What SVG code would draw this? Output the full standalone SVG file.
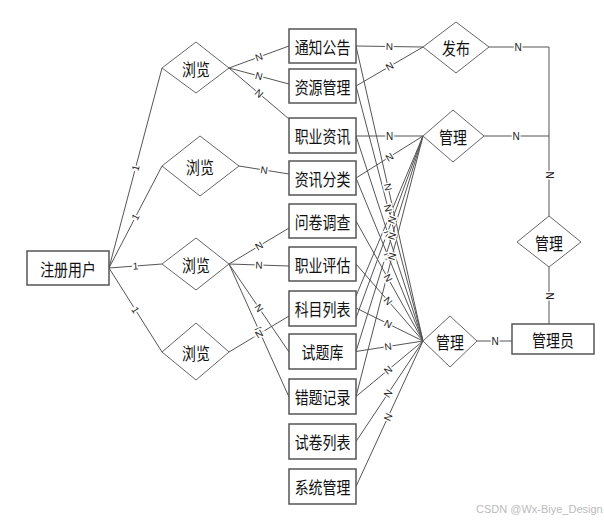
<svg xmlns="http://www.w3.org/2000/svg" width="604" height="521" viewBox="0 0 604 521">
<style>
.bg{fill:#ffffff}
.box{fill:#ffffff;stroke:#555555;stroke-width:1.5}
.dia{fill:#ffffff;stroke:#666666;stroke-width:1}
.t{font-family:"Noto Sans CJK SC","Liberation Sans",sans-serif;font-size:17px;fill:#111111;text-anchor:middle;dominant-baseline:central}
.ln{fill:none;stroke:#555555;stroke-width:1}
.lb{font-family:"Liberation Sans","DejaVu Sans",sans-serif;font-size:10px;fill:#222222;text-anchor:middle;dominant-baseline:central;stroke:#ffffff;stroke-width:3;paint-order:stroke}
.wm{font-family:"Liberation Sans","DejaVu Sans",sans-serif;font-size:11px;fill:#bbbbbb}
</style>
<rect class="bg" x="0" y="0" width="604" height="521"/>
<g id="connectors">
<path class="ln" d="M109,268 L162,68 M109,268 L162,166 M109,268 L162,264 M109,268 L162,352"/>
<path class="ln" d="M229,68 L289,46 M229,68 L289,84 M229,68 L289,119 M239,166 L289,174 M229,264 L289,228 M229,264 L289,266 M229,264 L289,352 M229,264 L289,397 M229,352 L289,316"/>
<path class="ln" d="M356,46 L423,47 M356,86 L423,47 M356,136 L423,136 M356,178 L423,136"/>
<path class="ln" d="M489,47 L549,47 L549,216 M484,136 L549,136 M549,267 L549,324 M477,341 L512,341"/>
<path class="ln" d="M356,46 L423,341 M356,86 L423,341 M356,136 L423,341 M356,178 L423,341 M356,221 L423,341 M356,264 L423,341 M356,308 L423,341 M356,351.5 L423,341 M356,396.5 L423,341 M356,441.5 L423,341 M356,486.5 L423,341"/>
<path class="ln" d="M356,296 L423,136 M356,318 L423,136 M356,351.5 L423,136 M356,396.5 L423,136"/>
<g id="labels">
<text class="lb" transform="translate(135.5,168) rotate(-75.2)">1</text>
<text class="lb" transform="translate(135.5,217) rotate(-62.5)">1</text>
<text class="lb" transform="translate(135.5,266) rotate(-4.3)">1</text>
<text class="lb" transform="translate(135.5,310) rotate(57.8)">1</text>
<text class="lb" transform="translate(259,57) rotate(-20.1)">N</text>
<text class="lb" transform="translate(259,76) rotate(14.9)">N</text>
<text class="lb" transform="translate(259,93.5) rotate(40.4)">N</text>
<text class="lb" transform="translate(264,170) rotate(9.1)">N</text>
<text class="lb" transform="translate(259,246) rotate(-31)">N</text>
<text class="lb" transform="translate(259,265) rotate(1.9)">N</text>
<text class="lb" transform="translate(259,308) rotate(55.7)">N</text>
<text class="lb" transform="translate(259,330.5) rotate(65.7)">N</text>
<text class="lb" transform="translate(259,334) rotate(-31)">N</text>
<text class="lb" transform="translate(389.5,46.5) rotate(0.9)">N</text>
<text class="lb" transform="translate(389.5,66.5) rotate(-30.2)">N</text>
<text class="lb" transform="translate(389.5,136)">N</text>
<text class="lb" transform="translate(389.5,157) rotate(-32.1)">N</text>
<text class="lb" transform="translate(518,47)">N</text>
<text class="lb" transform="translate(516,136)">N</text>
<text class="lb" transform="translate(549,175) rotate(90)">N</text>
<text class="lb" transform="translate(549,296) rotate(90)">N</text>
<text class="lb" transform="translate(495,341)">N</text>
<text class="lb" transform="translate(388,187) rotate(77.2)">N</text>
<text class="lb" transform="translate(388,208) rotate(75.3)">N</text>
<text class="lb" transform="translate(388,234) rotate(71.9)">N</text>
<text class="lb" transform="translate(388,256) rotate(67.7)">N</text>
<text class="lb" transform="translate(388,278) rotate(60.8)">N</text>
<text class="lb" transform="translate(388,301) rotate(49)">N</text>
<text class="lb" transform="translate(388,324) rotate(26.2)">N</text>
<text class="lb" transform="translate(388,346.5) rotate(-8.9)">N</text>
<text class="lb" transform="translate(388,370) rotate(-39.6)">N</text>
<text class="lb" transform="translate(388,393.5) rotate(-56.3)">N</text>
<text class="lb" transform="translate(388,417) rotate(-65.3)">N</text>
<text class="lb" transform="translate(392,220) rotate(-69.8)">N</text>
<text class="lb" transform="translate(392,236) rotate(-72.7)">N</text>
<text class="lb" transform="translate(392,256.5) rotate(-75.6)">N</text>
</g>
</g>
<g id="user"><rect class="box" x="27" y="251" width="82" height="34"/><text class="t" transform="translate(68,268) scale(0.82,1)">注册用户</text></g>
<g id="admin"><rect class="box" x="512" y="324" width="82" height="30"/><text class="t" transform="translate(553,339) scale(0.82,1)">管理员</text></g>
<g id="browse1"><polygon class="dia" points="162,68 196,42 229,68 196,93"/><text class="t" transform="translate(196,68) scale(0.82,1)">浏览</text></g>
<g id="browse2"><polygon class="dia" points="162,166 200,136 239,166 200,196"/><text class="t" transform="translate(200,166) scale(0.82,1)">浏览</text></g>
<g id="browse3"><polygon class="dia" points="162,264 196,238 229,264 196,290"/><text class="t" transform="translate(196,264) scale(0.82,1)">浏览</text></g>
<g id="browse4"><polygon class="dia" points="162,352 196,323 229,352 196,380"/><text class="t" transform="translate(196,352) scale(0.82,1)">浏览</text></g>
<g id="publish"><polygon class="dia" points="423,47 456,22 489,47 456,73"/><text class="t" transform="translate(456,47) scale(0.82,1)">发布</text></g>
<g id="manage-mid"><polygon class="dia" points="423,136 453,110 484,136 453,162"/><text class="t" transform="translate(453,136) scale(0.82,1)">管理</text></g>
<g id="manage-right"><polygon class="dia" points="517,242 549,216 581,242 549,267"/><text class="t" transform="translate(549,242) scale(0.82,1)">管理</text></g>
<g id="manage-bottom"><polygon class="dia" points="423,341 450,316 477,341 450,367"/><text class="t" transform="translate(450,341) scale(0.82,1)">管理</text></g>
<g id="e1"><rect class="box" x="289" y="29" width="67" height="34"/><text class="t" transform="translate(322.5,46) scale(0.82,1)">通知公告</text></g>
<g id="e2"><rect class="box" x="289" y="69" width="67" height="34"/><text class="t" transform="translate(322.5,86) scale(0.82,1)">资源管理</text></g>
<g id="e3"><rect class="box" x="289" y="118" width="67" height="35"/><text class="t" transform="translate(322.5,135.5) scale(0.82,1)">职业资讯</text></g>
<g id="e4"><rect class="box" x="289" y="161" width="67" height="34"/><text class="t" transform="translate(322.5,178) scale(0.82,1)">资讯分类</text></g>
<g id="e5"><rect class="box" x="289" y="204" width="67" height="34"/><text class="t" transform="translate(322.5,221) scale(0.82,1)">问卷调查</text></g>
<g id="e6"><rect class="box" x="289" y="247" width="67" height="34"/><text class="t" transform="translate(322.5,264) scale(0.82,1)">职业评估</text></g>
<g id="e7"><rect class="box" x="289" y="291" width="67" height="35"/><text class="t" transform="translate(322.5,308.5) scale(0.82,1)">科目列表</text></g>
<g id="e8"><rect class="box" x="289" y="334" width="67" height="35"/><text class="t" transform="translate(322.5,351.5) scale(0.82,1)">试题库</text></g>
<g id="e9"><rect class="box" x="289" y="379" width="67" height="35"/><text class="t" transform="translate(322.5,396.5) scale(0.82,1)">错题记录</text></g>
<g id="e10"><rect class="box" x="289" y="424" width="67" height="35"/><text class="t" transform="translate(322.5,441.5) scale(0.82,1)">试卷列表</text></g>
<g id="e11"><rect class="box" x="289" y="469" width="67" height="35"/><text class="t" transform="translate(322.5,486.5) scale(0.82,1)">系统管理</text></g>
<text class="wm" x="476" y="513">CSDN @Wx-Biye_Design</text>
</svg>
